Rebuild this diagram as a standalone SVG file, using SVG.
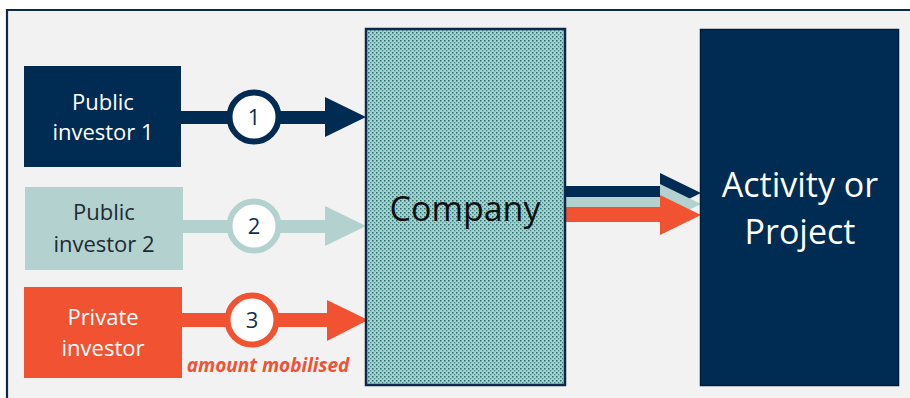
<svg xmlns="http://www.w3.org/2000/svg" width="910" height="398" viewBox="0 0 910 398">
  <defs>
    <style>
      .lbl { font-family: "Open Sans", "Liberation Sans", sans-serif; text-anchor: middle; }
      .box-txt { font-size: 22px; }
      .big { font-size: 34px; }
      .num { font-family: "Open Sans", "Liberation Sans", sans-serif; font-size: 22px; fill: #0f2f52; text-anchor: middle; }
      .navy { fill: #002b52; }
      .teal { fill: #b3d1cf; }
      .orange { fill: #f15232; }
      .ring { fill: #ffffff; stroke-width: 6; }
    </style>
    <!-- fine dotted texture for the company block -->
    <pattern id="dots" width="4" height="4" patternUnits="userSpaceOnUse">
      <rect width="4" height="4" fill="#aecdcb"/>
      <rect x="0" y="0" width="1.5" height="1.5" fill="#1f7070"/>
      <rect x="2" y="2" width="1.3" height="1.3" fill="#3f8a8a"/>
    </pattern>
  </defs>

  <!-- page and panel frame -->
  <rect width="910" height="398" fill="#ffffff"/>
  <rect x="7" y="10" width="905" height="390" fill="#f2f2f2"/>
  <path d="M7 398 V10 H910" fill="none" stroke="#0d2a4a" stroke-width="2.2"/>

  <!-- connectors -->
  <g id="connectors">
    <!-- public investor 1 -> company -->
    <rect class="navy" x="180" y="111" width="148" height="13"/>
    <polygon class="navy" points="325,97 366,117 325,137"/>
    <circle class="ring" cx="254" cy="117" r="24.5" stroke="#002b52"/>
    <text class="num" x="254" y="125">1</text>

    <!-- public investor 2 -> company -->
    <rect class="teal" x="182" y="220" width="146" height="13"/>
    <polygon class="teal" points="325,206 366,226 325,246"/>
    <circle class="ring" cx="254" cy="226" r="24.5" stroke="#b3d1cf"/>
    <text class="num" x="254" y="234">2</text>

    <!-- private investor -> company -->
    <rect class="orange" x="181" y="313" width="148" height="14"/>
    <polygon class="orange" points="327,300 368,320 327,341"/>
    <circle class="ring" cx="252" cy="320" r="24.5" stroke="#f15232"/>
    <text class="num" x="252" y="328">3</text>
    <text x="268" y="372" font-family="Open Sans, Liberation Sans, sans-serif" font-size="19" font-weight="bold" font-style="italic" fill="#f15232" text-anchor="middle">amount mobilised</text>

    <!-- company -> activity (three stacked flows) -->
    <rect class="navy" x="565" y="186" width="97" height="12"/>
    <polygon class="navy" points="660,173 701,193 660,213"/>
    <rect class="teal" x="565" y="197" width="97" height="11"/>
    <polygon class="teal" points="660,184 701,204 660,224"/>
    <rect class="orange" x="565" y="207" width="97" height="15"/>
    <polygon class="orange" points="660,195 701,215 660,235"/>
  </g>

  <g id="public-investor-1">
    <rect class="navy" x="24" y="66" width="157" height="101"/>
    <text class="lbl box-txt" x="103" y="110" fill="#ffffff">Public</text>
    <text class="lbl box-txt" x="103" y="140" fill="#ffffff">investor 1</text>
  </g>

  <g id="public-investor-2">
    <rect class="teal" x="25" y="187" width="158" height="83"/>
    <text class="lbl box-txt" x="104" y="220" fill="#1e2a33">Public</text>
    <text class="lbl box-txt" x="104" y="252" fill="#1e2a33">investor 2</text>
  </g>

  <g id="private-investor">
    <rect class="orange" x="24" y="287" width="158" height="91"/>
    <text class="lbl box-txt" x="103" y="325" fill="#ffffff">Private</text>
    <text class="lbl box-txt" x="103" y="356" fill="#ffffff">investor</text>
  </g>

  <g id="company">
    <rect x="366" y="29" width="199" height="356" fill="url(#dots)" stroke="#0d2a4a" stroke-width="2.5"/>
    <text class="lbl big" x="465" y="221" fill="#111111">Company</text>
  </g>

  <g id="activity-or-project">
    <rect x="700.5" y="29.5" width="198" height="356" fill="#002b52" stroke="#001f3f" stroke-width="1.5"/>
    <text class="lbl big" x="800" y="197" fill="#ffffff">Activity or</text>
    <text class="lbl big" x="800" y="244" fill="#ffffff">Project</text>
  </g>
</svg>
